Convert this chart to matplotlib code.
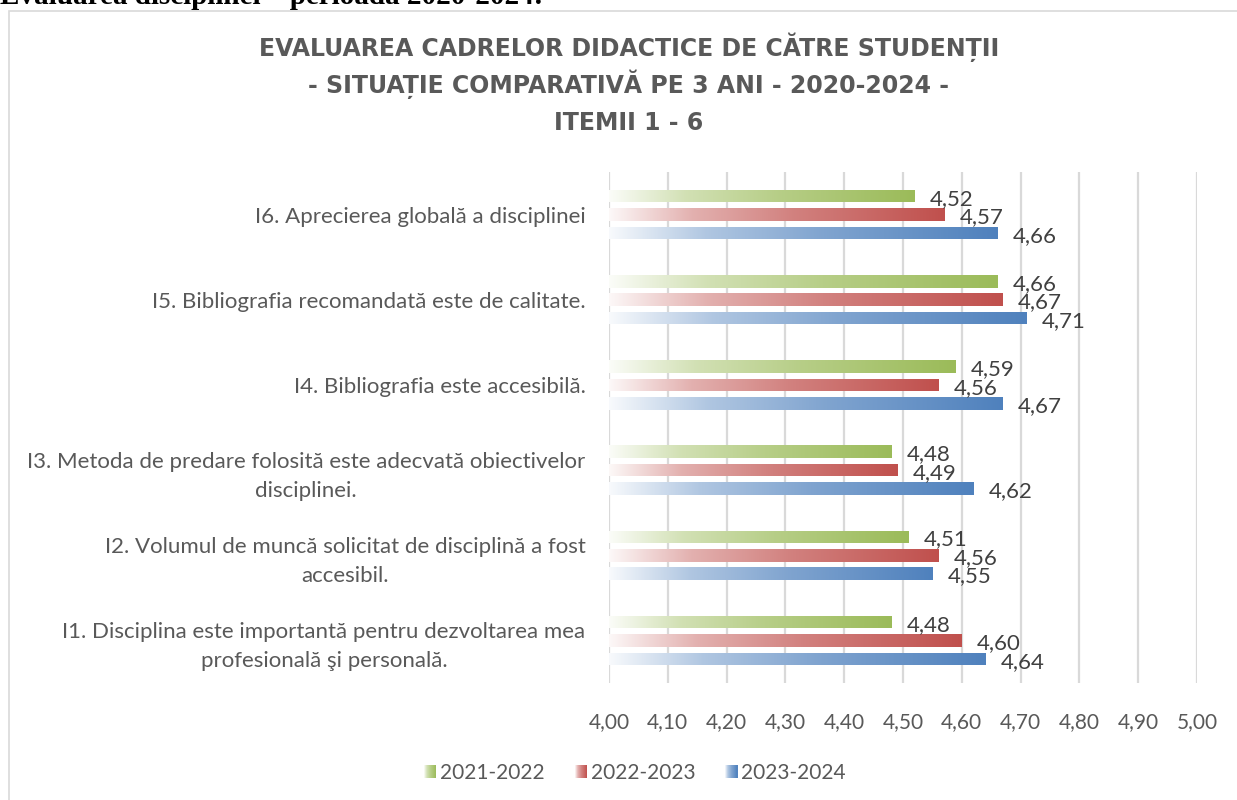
import numpy as np
import matplotlib
matplotlib.use("Agg")
import matplotlib.pyplot as plt
from matplotlib.colors import LinearSegmentedColormap, to_rgb
from matplotlib.patches import Rectangle
from matplotlib.legend_handler import HandlerBase

# --- data ---------------------------------------------------------------
items = [
    "I1. Disciplina este importantă pentru dezvoltarea mea\nprofesională şi personală.",
    "I2. Volumul de muncă solicitat de disciplină a fost\naccesibil.",
    "I3. Metoda de predare folosită este adecvată obiectivelor\ndisciplinei.",
    "I4. Bibliografia este accesibilă.",
    "I5. Bibliografia recomandată este de calitate.",
    "I6. Aprecierea globală a disciplinei",
]
years = ["2021-2022", "2022-2023", "2023-2024"]
v_2122 = [4.48, 4.51, 4.48, 4.59, 4.66, 4.52]
v_2223 = [4.60, 4.56, 4.49, 4.56, 4.67, 4.57]
v_2324 = [4.64, 4.55, 4.62, 4.67, 4.71, 4.66]
xticks = [4.00, 4.10, 4.20, 4.30, 4.40, 4.50, 4.60, 4.70, 4.80, 4.90, 5.00]
title_lines = [
    "EVALUAREA CADRELOR DIDACTICE DE CĂTRE STUDENȚII",
    "- SITUAȚIE COMPARATIVĂ PE 3 ANI - 2020-2024 -",
    "ITEMII 1 - 6",
]

colors = ["#9BBB59", "#C0504D", "#4F81BD"]
TEXT = "#595959"
FONT = "Lato"

plt.rcParams["font.family"] = [FONT, "DejaVu Sans"]


def grad_cmap(c):
    r, g, b = to_rgb(c)
    def mix(t):
        return (1 - t + t * r, 1 - t + t * g, 1 - t + t * b)
    return LinearSegmentedColormap.from_list(
        "g", [(0.0, mix(0.04)), (0.25, mix(0.45)), (0.55, mix(0.72)), (1.0, mix(1.0))])


cmaps = [grad_cmap(c) for c in colors]
ramp = np.linspace(0, 1, 256).reshape(1, -1)


class HandlerGradient(HandlerBase):
    def __init__(self, cmap):
        super().__init__()
        self.cmap = cmap

    def create_artists(self, legend, orig_handle, xdescent, ydescent,
                       width, height, fontsize, trans):
        n = 12
        arts = []
        for i in range(n):
            arts.append(Rectangle((-xdescent + width * i / n, -ydescent),
                                  width / n + 0.3, height,
                                  facecolor=self.cmap((i + 0.5) / n),
                                  edgecolor="none", transform=trans))
        return arts


fig = plt.figure(figsize=(12.37, 8), dpi=100)
ax = fig.add_axes([609 / 1237, 1 - 683 / 800, 588 / 1237, 511 / 800])

y = np.arange(len(items))
pitch = 0.217
height = 0.147
offsets = [pitch, 0.0, -pitch]
series = [v_2122, v_2223, v_2324]

for vals, off, cm, col in zip(series, offsets, cmaps, colors):
    bars = ax.barh(y + off, np.array(vals) - 4.0, left=4.0, height=height,
                   facecolor="none", edgecolor="none", zorder=3)
    for bar, v in zip(bars, vals):
        x0, y0 = bar.get_x(), bar.get_y()
        w, h = bar.get_width(), bar.get_height()
        im = ax.imshow(ramp, cmap=cm, extent=[x0, x0 + w, y0, y0 + h],
                       aspect="auto", interpolation="bilinear", zorder=3)
        im.set_clip_path(bar)
        ax.annotate(f"{v:.2f}".replace(".", ","), (x0 + w, y0 + h / 2),
                    xytext=(11, -2), textcoords="offset points",
                    ha="left", va="center", fontsize=16, color="#404040",
                    zorder=4)

ax.set_xlim(4.0, 5.0)
ax.set_ylim(-0.5, len(items) - 0.5)
ax.set_xticks(xticks)
ax.set_xticklabels([f"{t:.2f}".replace(".", ",") for t in xticks],
                   fontsize=15, color=TEXT)
ax.set_yticks(y)
ax.set_yticklabels(items, fontsize=16, color=TEXT, multialignment="center",
                   linespacing=1.55)
ax.tick_params(axis="x", length=0, pad=21)
ax.tick_params(axis="y", length=0, pad=17)
ax.grid(axis="x", color="#D9D9D9", linewidth=1.6, zorder=0)
ax.set_axisbelow(True)
for s in ax.spines.values():
    s.set_visible(False)

# title, one text per line so accents do not shift the line spacing
for i, line in enumerate(title_lines):
    fig.text(629 / 1237, 1 - (56 + 37 * i) / 800, line,
             ha="center", va="baseline", fontsize=17, fontweight="bold",
             family="DejaVu Sans", color=TEXT)

# legend
handles = [Rectangle((0, 0), 1, 1) for _ in years]
fig.legend(handles, years, loc="center", bbox_to_anchor=(635 / 1237, 1 - 773 / 800),
           ncol=3, frameon=False, fontsize=15, labelcolor=TEXT,
           handlelength=0.58, handleheight=0.58, handletextpad=0.2,
           columnspacing=1.43,
           handler_map={h: HandlerGradient(cm) for h, cm in zip(handles, cmaps)})

# chart border (continues past the right/bottom edge of the crop)
fig.patches.append(Rectangle((9 / 1237, -0.2), 1.2, 1.2 - 11 / 800,
                             transform=fig.transFigure, fill=False,
                             edgecolor="#D9D9D9", linewidth=1.2))

# heading from the document page above the chart, cut off at the top
fig.text(0.0, 1 - 4 / 800, "Evaluarea disciplinei – perioada 2020-2024:",
         ha="left", va="baseline", fontsize=21, fontweight="bold",
         family="Liberation Serif", color="black")

fig.savefig("out.png", dpi=100, facecolor="white")
